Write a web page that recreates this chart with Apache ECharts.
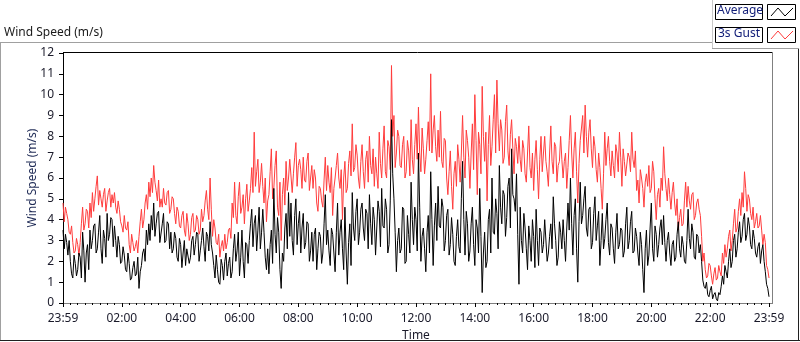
<!DOCTYPE html>
<html><head><meta charset="utf-8">
<script src="https://cdn.jsdelivr.net/npm/echarts@6/dist/echarts.min.js"></script>
<style>html,body{margin:0;padding:0;background:#fff;}#c{width:800px;height:342px;}</style>
</head><body><div id="c"></div>
<script>
// samples every 5 minutes from 23:59 to 23:59 (minutes since start), plus the in-between swings at +2.5 min
const stepMinutes = 5;
const xTickLabels = ['23:59','02:00','04:00','06:00','08:00','10:00','12:00','14:00','16:00','18:00','20:00','22:00','23:59'];
const gust = [
4.8,4.6,4.0,3.3,2.9,2.5,2.8,2.9,4.6,3.8,4.4,4.8,5.3,5.0,6.1,5.4,4.6,5.5,4.9,5.5,5.2,5.3,4.3,4.5,3.7,4.2,3.5,2.8,3.3,2.5,3.0,3.2,4.5,4.0,5.2,5.8,6.0,6.6,5.4,5.9,5.0,
5.5,4.7,5.4,4.5,5.0,3.8,4.4,3.6,4.4,3.2,3.8,3.3,4.3,3.5,4.0,3.5,3.9,4.9,4.5,6.0,3.2,3.6,2.8,2.2,3.0,3.3,2.9,3.6,4.8,5.8,3.8,5.8,4.6,3.8,5.7,4.9,6.5,8.2,6.3,5.3,6.7,
4.8,3.9,5.2,7.4,5.5,7.3,4.2,3.0,6.0,6.8,6.0,6.9,6.2,7.7,6.6,6.4,7.0,5.8,7.2,6.0,5.5,6.0,4.4,5.5,4.6,7.0,6.6,5.3,4.2,6.0,7.2,5.5,4.0,6.8,5.5,7.3,8.6,6.5,7.1,5.5,
7.6,5.5,7.3,8.0,6.2,5.6,6.2,8.2,6.0,8.5,6.0,7.5,11.4,9.0,7.2,8.0,6.5,8.0,6.3,7.3,8.8,6.2,8.6,9.4,6.3,7.4,6.9,8.7,11.0,8.3,7.5,8.3,9.2,6.5,7.8,5.2,7.3,4.5,6.8,7.6,5.8,
9.0,6.0,7.8,5.5,8.6,10.0,5.2,7.6,10.4,6.8,4.9,9.0,7.5,10.0,10.7,7.3,8.3,7.0,9.5,6.6,8.8,6.2,7.5,8.0,6.3,7.4,5.8,8.5,6.0,5.4,7.8,5.0,8.0,7.2,6.8,5.6,8.5,6.2,7.5,6.6,8.0,
6.0,7.2,6.5,9.0,6.0,8.2,4.8,7.8,9.0,9.5,7.0,8.8,6.5,7.5,5.8,6.5,4.5,8.2,7.4,6.8,7.3,6.0,7.2,8.2,5.6,6.8,6.1,7.0,8.2,6.5,5.4,4.8,6.0,4.6,6.2,6.6,5.5,6.3,4.0,5.5,6.0,
7.5,5.5,6.0,4.5,5.8,4.2,3.5,4.5,3.8,5.8,5.6,4.5,5.3,4.2,5.0,4.2,2.0,1.6,1.3,1.8,0.9,1.7,1.2,1.5,2.4,2.8,2.6,3.5,3.0,4.5,3.6,5.0,5.3,6.3,4.4,5.0,4.0,3.6,4.3,3.7,3.5,3.3,1.8,1.2
];
const gustMid = [
3.9,4.3,3.4,3.7,2.4,3.1,2.3,3.8,3.5,4.5,3.6,4.1,4.4,5.6,4.7,5.0,5.2,4.4,5.3,4.6,4.8,4.6,4.9,3.9,3.4,3.6,3.9,2.4,2.9,2.7,2.4,3.9,3.6,4.8,4.5,5.1,5.3,5.8,4.9,4.6,4.6,
4.8,5.3,4.3,5.1,4.3,4.6,3.7,4.2,3.5,4.3,3.0,4.1,3.4,4.2,3.3,4.5,4.2,5.4,4.0,4.5,4.0,2.9,3.3,2.7,2.5,2.6,3.5,3.1,4.1,4.2,5.1,4.3,5.2,5.0,4.4,5.5,5.3,5.6,6.9,5.8,5.6,
6.0,4.9,6.3,5.0,6.6,4.6,5.8,5.2,4.7,5.4,6.9,5.3,7.0,5.6,6.9,5.5,5.9,6.8,5.4,6.6,6.4,4.8,5.6,4.9,5.9,5.4,5.8,6.5,5.5,6.6,6.0,6.4,6.0,5.3,6.7,6.1,6.3,7.6,6.0,6.8,
6.3,6.9,5.8,6.6,7.4,7.0,5.5,6.7,7.4,6.3,7.8,6.4,8.0,6.5,8.3,6.6,7.6,6.0,7.8,6.1,6.9,7.6,6.9,7.2,8.4,6.2,7.8,7.3,7.2,9.0,6.8,7.0,6.8,7.9,6.0,6.3,5.6,6.2,5.6,6.9,7.2,
7.0,8.3,7.0,7.2,6.4,7.8,8.2,6.2,8.0,8.2,7.6,6.6,8.8,7.2,8.6,8.8,6.7,8.7,7.3,8.1,7.4,7.9,6.7,6.9,7.8,6.2,7.2,6.5,7.2,6.9,6.4,6.9,6.3,8.0,6.3,7.2,6.8,7.7,5.8,6.8,6.9,
6.8,5.5,7.8,7.2,7.4,6.3,6.7,8.4,7.2,8.0,8.2,7.4,8.0,6.4,7.2,5.5,6.2,6.6,8.0,6.1,6.6,7.6,6.3,7.0,7.4,6.1,7.2,6.3,6.9,7.3,5.9,6.4,5.5,5.8,5.6,5.3,6.8,5.0,5.2,4.6,5.4,
6.2,4.9,5.2,5.3,4.8,5.0,4.1,3.7,4.9,4.6,4.9,5.2,4.0,4.8,4.5,3.2,2.4,1.2,1.9,1.3,1.4,1.1,1.8,1.3,1.9,2.2,3.2,2.5,3.8,3.4,4.4,4.2,4.6,5.5,5.2,4.3,4.6,3.9,3.6,4.2,2.8,2.9,1.6
];
const average = [
3.5,3.3,2.3,2.0,1.2,1.9,1.6,2.2,3.4,1.0,2.8,3.5,3.0,3.8,2.6,4.2,1.9,3.1,4.3,3.3,4.0,3.7,2.2,2.8,2.0,2.3,1.5,1.9,1.2,2.0,1.4,0.7,1.8,2.6,3.5,3.8,4.2,4.8,3.8,4.4,2.9,
4.3,3.0,3.8,3.4,2.6,3.1,2.0,2.8,2.4,1.8,2.6,2.2,3.2,2.8,3.3,2.5,3.6,2.0,3.2,3.9,2.4,1.2,1.6,0.9,1.8,2.0,1.3,2.2,1.5,3.3,2.5,1.3,3.5,1.2,2.8,3.0,4.5,3.8,2.5,4.6,3.4,
3.4,1.6,1.4,3.5,5.5,2.4,3.4,0.7,2.0,4.3,5.3,4.8,2.3,5.0,3.8,2.4,4.3,2.9,3.8,2.5,2.0,3.6,2.6,3.2,2.4,5.2,3.5,1.8,3.3,1.5,4.8,3.4,2.6,4.6,0.9,3.8,5.3,3.0,5.0,3.4,
4.8,3.0,4.3,5.2,2.8,4.0,3.6,4.4,5.5,3.6,4.5,2.8,8.8,5.0,1.5,3.6,2.6,4.5,2.0,3.3,5.8,2.8,4.0,7.2,2.0,3.6,1.5,4.2,6.3,1.8,4.8,5.6,3.6,4.6,3.0,4.5,2.8,3.3,1.8,4.0,2.4,
6.8,2.3,3.8,2.5,4.6,1.8,3.6,5.5,0.5,3.4,2.0,4.5,6.0,3.3,4.3,6.6,3.8,5.2,4.1,6.0,7.4,5.0,6.2,0.9,3.0,4.3,2.6,3.7,2.0,3.2,4.5,1.8,3.4,2.8,4.0,2.4,3.8,5.1,3.0,2.2,3.4,
4.0,2.0,4.8,6.0,2.3,5.0,1.0,5.8,4.2,5.6,3.2,4.6,2.9,5.1,3.7,1.8,4.3,3.1,4.8,2.3,3.6,1.9,4.3,2.8,3.5,2.5,4.6,3.0,4.4,2.5,3.2,1.8,2.8,0.5,3.5,2.3,4.8,2.0,3.3,2.8,4.0,
4.2,2.0,3.4,1.8,3.0,2.2,3.9,2.2,2.8,1.9,4.5,2.6,3.4,2.1,3.2,2.8,1.1,0.7,0.4,0.6,0.2,0.5,0.1,0.4,1.3,1.8,1.2,2.6,2.0,3.3,2.6,3.9,3.2,4.3,3.3,3.7,2.6,3.1,2.2,2.9,2.5,2.0,0.9,0.3
];
const averageMid = [
2.6,2.9,3.0,1.4,2.3,1.3,2.4,1.2,2.5,2.4,1.6,2.6,3.7,2.4,3.4,2.6,3.5,2.2,3.0,4.1,2.7,3.0,3.2,1.9,2.7,1.6,2.4,1.1,1.7,1.3,2.2,1.5,2.4,2.0,2.8,3.0,3.5,3.2,4.3,2.9,3.8,
2.9,3.9,2.6,2.4,3.4,2.2,3.1,1.7,3.0,2.6,1.9,3.0,2.3,3.4,2.0,3.0,2.7,3.4,2.5,2.8,1.8,2.3,1.0,2.1,1.1,2.4,1.9,1.2,2.6,2.0,3.4,2.2,2.0,2.9,1.9,3.8,2.7,4.2,3.5,2.6,4.5,
2.2,2.6,2.8,1.9,3.3,4.1,1.6,2.4,3.6,2.6,3.2,3.0,4.2,2.8,4.4,3.6,2.6,3.9,2.0,3.4,3.3,1.6,3.4,1.9,3.8,2.8,2.5,3.6,2.4,3.4,2.3,4.0,1.6,2.4,2.9,1.8,3.6,4.4,2.8,4.5,
3.6,4.5,2.6,3.8,4.6,2.3,4.9,2.7,3.7,5.0,2.4,4.9,6.2,3.4,3.0,2.4,4.6,1.9,4.2,2.4,4.0,4.6,2.5,4.6,3.2,2.6,3.4,2.4,4.0,3.7,3.0,3.7,5.0,2.5,4.2,2.3,4.1,2.0,3.2,2.7,5.0,
4.0,4.4,2.0,3.8,2.8,4.0,2.4,3.2,2.4,1.7,4.0,2.4,3.4,5.0,2.6,4.6,5.4,3.2,5.6,3.6,5.2,4.4,3.3,4.6,2.4,3.6,1.6,3.0,4.0,1.7,3.0,3.6,2.4,4.0,2.0,3.2,2.6,3.8,1.8,3.9,2.6,
3.0,3.6,3.5,3.8,4.2,2.6,3.9,3.8,5.0,3.6,4.5,2.6,4.3,3.0,4.4,3.0,2.6,4.0,2.9,3.8,2.6,3.4,2.6,3.6,2.2,3.8,2.6,3.9,2.4,3.6,2.4,3.4,1.6,2.6,1.8,3.6,2.6,3.7,2.2,3.6,2.8,
2.9,3.0,2.4,2.8,2.0,3.3,2.6,3.2,2.0,3.0,3.1,3.8,2.2,3.3,2.4,2.0,0.8,1.0,0.3,0.8,0.4,0.2,0.5,0.8,0.9,1.5,2.0,1.7,3.0,2.2,3.4,2.9,4.0,3.0,4.1,2.8,3.5,2.4,2.7,1.9,2.8,1.5,0.7
];

function buildSeries(main, mid) {
  const out = [];
  for (let i = 0; i < main.length; i++) {
    out.push([i * stepMinutes, main[i]]);
    if (i < main.length - 1 && mid[i] !== undefined) out.push([i * stepMinutes + stepMinutes / 2, mid[i]]);
  }
  return out;
}
const gustData = buildSeries(gust, gustMid);
const avgData = buildSeries(average, averageMid);

const FONT = '"Noto Sans", sans-serif';
const chart = echarts.init(document.getElementById('c'), null, {renderer: 'canvas'});

function zig(x, y, color) {
  return {type: 'polyline', shape: {points: [[x+3,y+12],[x+10,y+4],[x+17,y+12],[x+25,y+4]]},
          style: {stroke: color, lineWidth: 1, fill: null}, z: 20};
}

chart.setOption({
  animation: false,
  backgroundColor: '#ffffff',
  grid: {left: 63, right: 31, top: 53, bottom: 39, show: false, containLabel: false, outerBoundsMode: 'none'},
  xAxis: {
    type: 'value', min: 0, max: 1440, interval: 120,
    name: 'Time', nameLocation: 'middle', nameGap: 27, nameMoveOverlap: false,
    nameTextStyle: {color: '#1a1a2a', fontSize: 12, fontFamily: FONT},
    axisLine: {show: true, lineStyle: {color: '#808080', width: 1}},
    axisTick: {show: true, length: 4, lineStyle: {color: '#000'}},
    minorTick: {show: true, splitNumber: 8, length: 2, lineStyle: {color: '#000'}},
    splitLine: {show: false},
    axisLabel: {
      color: '#1a1a2a', fontSize: 12, fontFamily: FONT, margin: 10,
      formatter: v => xTickLabels[Math.round(v / 120)]
    }
  },
  yAxis: {
    type: 'value', min: 0, max: 12, interval: 1,
    name: 'Wind Speed (m/s)', nameLocation: 'middle', nameGap: 24, nameRotate: 90, nameMoveOverlap: false,
    nameTextStyle: {color: '#1e2a55', fontSize: 12, fontFamily: FONT},
    axisLine: {show: true, lineStyle: {color: '#000', width: 1}},
    axisTick: {show: true, length: 4, lineStyle: {color: '#000'}},
    splitLine: {show: false},
    axisLabel: {color: '#1a1a2a', fontSize: 12, fontFamily: FONT, margin: 9}
  },
  series: [
    {name: '3s Gust', type: 'line', data: gustData, showSymbol: false, symbol: 'none',
     lineStyle: {color: '#ff3c3c', width: 1}, itemStyle: {color: '#ff3c3c'}},
    {name: 'Average', type: 'line', data: avgData, showSymbol: false, symbol: 'none',
     lineStyle: {color: '#000000', width: 1}, itemStyle: {color: '#000'}}
  ],
  graphic: [
    {type: 'line', shape: {x1: 0, y1: 42.5, x2: 712, y2: 42.5}, style: {stroke: '#a0a0a0', lineWidth: 1}},
    {type: 'line', shape: {x1: 0.5, y1: 42, x2: 0.5, y2: 341}, style: {stroke: '#a0a0a0', lineWidth: 1}},
    {type: 'line', shape: {x1: 0, y1: 340.5, x2: 800, y2: 340.5}, style: {stroke: '#202020', lineWidth: 1}},
    {type: 'line', shape: {x1: 798.5, y1: 48, x2: 798.5, y2: 341}, style: {stroke: '#202020', lineWidth: 1}},
    {type: 'line', shape: {x1: 712.5, y1: 0, x2: 712.5, y2: 48}, style: {stroke: '#c8c8c8', lineWidth: 1}},
    {type: 'line', shape: {x1: 712, y1: 48.5, x2: 799, y2: 48.5}, style: {stroke: '#a0a0a0', lineWidth: 1}},
    {type: 'line', shape: {x1: 63, y1: 52.5, x2: 772, y2: 52.5}, style: {stroke: '#000', lineWidth: 1}},
    {type: 'line', shape: {x1: 772.5, y1: 52, x2: 772.5, y2: 303}, style: {stroke: '#808080', lineWidth: 1}},
    {type: 'line', shape: {x1: 769, y1: 303.5, x2: 773, y2: 303.5}, style: {stroke: '#808080', lineWidth: 1}},
    {type: 'text', left: 4, top: 27, style: {text: 'Wind Speed (m/s)', fill: '#1a1a1a', font: '12px ' + FONT}},
    {type: 'rect', shape: {x: 715.5, y: 4.5, width: 47, height: 15}, style: {fill: '#fff', stroke: '#000', lineWidth: 1}},
    {type: 'text', left: 717, top: 5, style: {text: 'Average', fill: '#14207a', font: '12px ' + FONT}, z: 20},
    {type: 'rect', shape: {x: 767.5, y: 4.5, width: 28, height: 15}, style: {fill: '#fff', stroke: '#000', lineWidth: 1}},
    zig(768, 4, '#000'),
    {type: 'rect', shape: {x: 715.5, y: 27.5, width: 47, height: 15}, style: {fill: '#fff', stroke: '#000', lineWidth: 1}},
    {type: 'text', left: 718, top: 28, style: {text: '3s Gust', fill: '#14207a', font: '12px ' + FONT}, z: 20},
    {type: 'rect', shape: {x: 767.5, y: 27.5, width: 28, height: 15}, style: {fill: '#fff', stroke: '#000', lineWidth: 1}},
    zig(768, 27, '#ff3c3c')
  ]
});
</script>
</body></html>
